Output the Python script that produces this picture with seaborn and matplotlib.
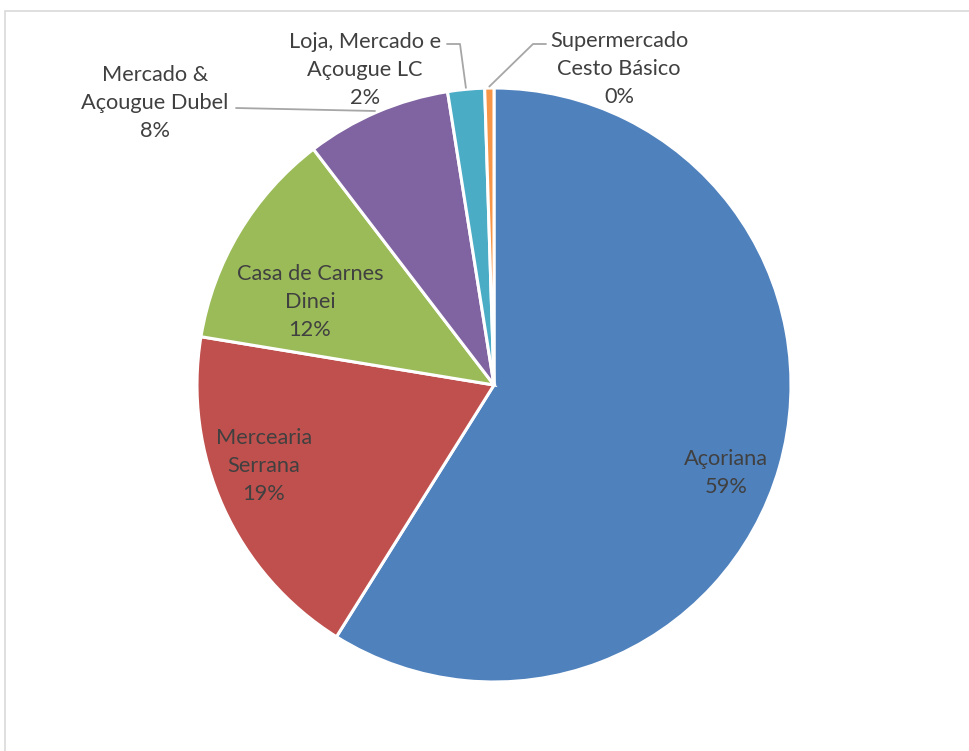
import numpy as np
import matplotlib
matplotlib.use("Agg")
import matplotlib.pyplot as plt
import seaborn as sns
from matplotlib.patches import Rectangle

# shares (percent)
stores = ["Açoriana", "Mercearia Serrana", "Casa de Carnes Dinei",
          "Mercado & Açougue Dubel", "Loja, Mercado e Açougue LC",
          "Supermercado Cesto Básico"]
shares = [58.9, 18.7, 12.0, 7.9, 2.0, 0.5]
label_text = ["Açoriana\n59%", "Mercearia\nSerrana\n19%", "Casa de Carnes\nDinei\n12%",
              "Mercado &\nAçougue Dubel\n8%", "Loja, Mercado e\nAçougue LC\n2%",
              "Supermercado\nCesto Básico\n0%"]
colors = ["#4F81BD", "#C0504D", "#9BBB59", "#8064A2", "#4BACC6", "#F79646"]

W, H = 970, 751
sns.set_theme(style="white")
plt.rcParams["font.family"] = ["Lato", "DejaVu Sans"]

def py(y):
    # pixel row -> data y
    return H - y

fig = plt.figure(figsize=(9.7, 7.51), dpi=100)
ax = fig.add_axes([0, 0, 1, 1])

cx, cy, r = 494, py(385), 297
wedges, _ = ax.pie(shares, colors=sns.color_palette(colors), startangle=90,
                   counterclock=False, center=(cx, cy), radius=r,
                   wedgeprops={"edgecolor": "white", "linewidth": 2.2})
ax.set_xlim(0, W)
ax.set_ylim(0, H)
ax.set_aspect("equal")
ax.axis("off")

# chart area border (extends past right / bottom edge)
ax.add_patch(Rectangle((5, -10), W + 20, py(11) + 10, fill=False,
                       edgecolor="#D9D9D9", linewidth=1.2, clip_on=False))

txt = dict(ha="center", va="center", fontsize=15.7, color="#404040", linespacing=1.5)

# inside labels
inside_pos = {0: (726, 473), 1: (264, 466), 2: (310, 302)}
for i, (x, y) in inside_pos.items():
    ax.text(x, py(y), label_text[i], **txt)

# outside labels with leader lines
outside_pos = {3: (155, 103), 4: (365, 70), 5: (619, 69)}
for i, (x, y) in outside_pos.items():
    ax.text(x, py(y), label_text[i], **txt)

lc = "#A6A6A6"
def edge_pt(w, frac=1.0):
    th = np.deg2rad((w.theta1 + w.theta2) / 2)
    return cx + r * frac * np.cos(th), cy + r * frac * np.sin(th)

# Dubel
ex, ey = 375, py(111)
ax.plot([236, ex], [py(108), ey], color=lc, lw=1.3)
# Loja
lx, ly = edge_pt(wedges[4], 1.005)
ax.plot([447, 460, lx], [py(44), py(44), ly], color=lc, lw=1.3)
# Supermercado
sx, sy = edge_pt(wedges[5], 1.005)
ax.plot([546, 533, sx], [py(44), py(44), sy], color=lc, lw=1.3)

fig.savefig("out.png", dpi=100)
